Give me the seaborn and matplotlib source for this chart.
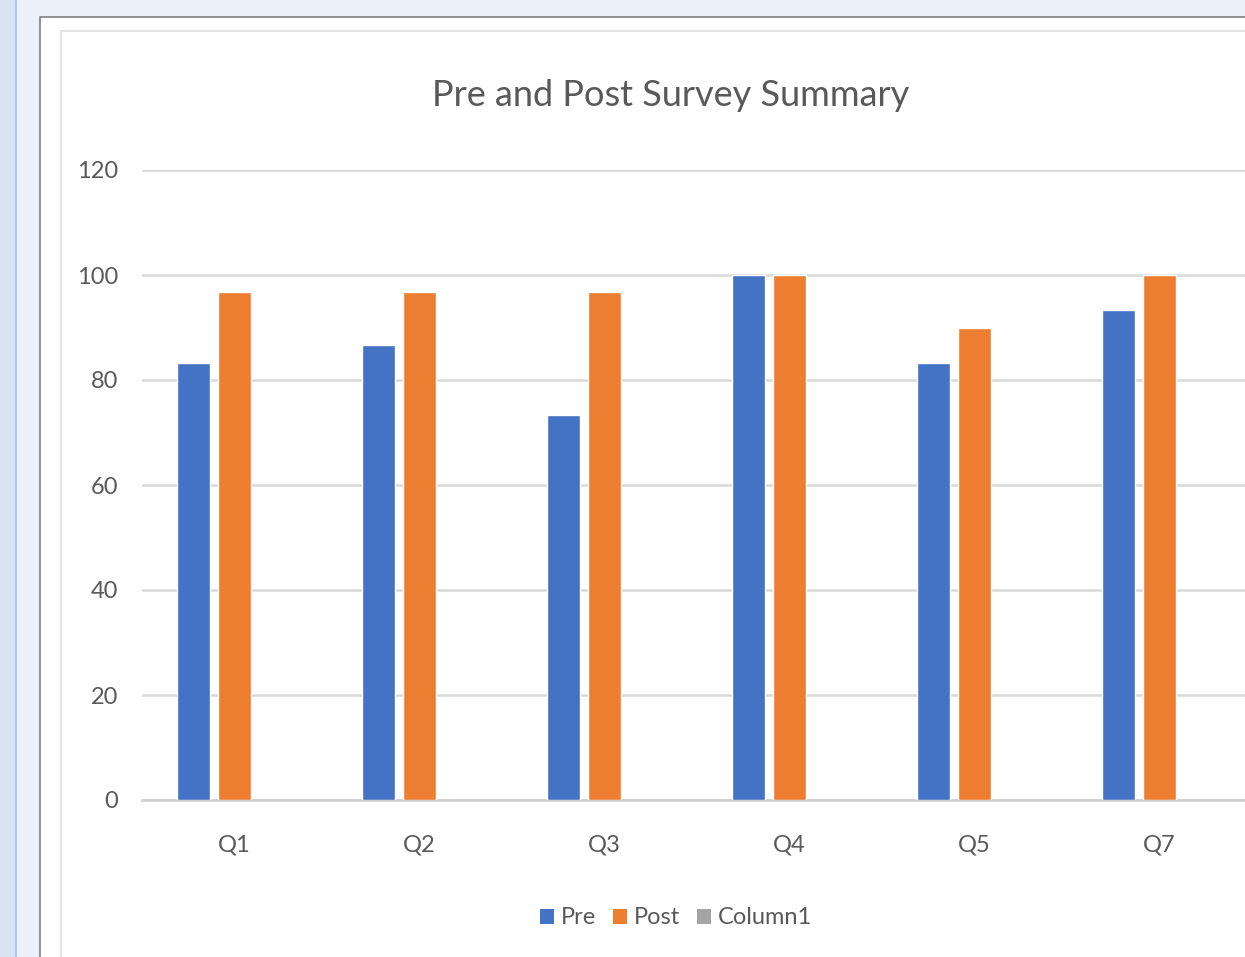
import matplotlib
matplotlib.use("Agg")
import matplotlib.pyplot as plt
from matplotlib.patches import Rectangle, Patch
from matplotlib.lines import Line2D
import seaborn as sns
import pandas as pd
import numpy as np

questions = ["Q1", "Q2", "Q3", "Q4", "Q5", "Q7"]
pre = [83.33, 86.67, 73.33, 100, 83.33, 93.33]
post = [96.67, 96.67, 96.67, 100, 90, 100]
column1 = [np.nan] * 6
series = ["Pre", "Post", "Column1"]
colors = ["#4472C4", "#ED7D31", "#A5A5A5"]
title = "Pre and Post Survey Summary"

df = pd.DataFrame({
    "Question": questions * 3,
    "Series": ["Pre"] * 6 + ["Post"] * 6 + ["Column1"] * 6,
    "Value": pre + post + column1,
})

sns.set_theme(style="white")
plt.rcParams["font.family"] = ["Lato", "DejaVu Sans"]

W, H = 1245, 957
fig = plt.figure(figsize=(W / 100, H / 100), dpi=100)
fig.patch.set_facecolor("#EBF1FA")

def px_rect(x0, y0, x1, y1, **kw):
    fig.patches.append(Rectangle((x0 / W, 1 - y1 / H), (x1 - x0) / W, (y1 - y0) / H,
                                 transform=fig.transFigure, **kw))

# left strip
px_rect(0, 0, 15, H, facecolor="#DAE3F3", edgecolor="none", zorder=-5)
fig.lines.append(Line2D([15.5 / W, 15.5 / W], [0, 1], transform=fig.transFigure,
                        color="#B4C7E7", lw=1.5, zorder=-4))
# white panel with gray frame
px_rect(40, 17, W + 5, H + 5, facecolor="white", edgecolor="#7F7F7F", lw=1.2, zorder=-4)
# chart area faint border
px_rect(61, 31, W + 5, H + 5, facecolor="white", edgecolor="#E3E3E3", lw=1.5, zorder=-3)

ax_l, ax_r, ax_t, ax_b = 142, 1245, 170, 800
ax = fig.add_axes([ax_l / W, 1 - ax_b / H, (ax_r - ax_l) / W, (ax_b - ax_t) / H])
ax.set_facecolor("none")

sns.barplot(data=df, x="Question", y="Value", hue="Series", hue_order=series,
            order=questions, palette=colors, width=0.665, gap=0.2,
            saturation=1, ax=ax, legend=False, errorbar=None, zorder=3)

ax.set_ylim(0, 120)
ax.set_xlim(-0.5, -0.5 + (ax_r - ax_l) / 185)
ax.set_yticks(range(0, 121, 20))
ax.yaxis.grid(True, color="#D9D9D9", lw=1.8, zorder=0)
ax.set_axisbelow(True)
for s in ["top", "right", "left"]:
    ax.spines[s].set_visible(False)
ax.spines["bottom"].set_color("#D0D0D0")
ax.spines["bottom"].set_linewidth(2)
ax.set_xlabel("")
ax.set_ylabel("")
ax.tick_params(axis="y", length=0, pad=17, labelsize=17, labelcolor="#595959")
ax.tick_params(axis="x", length=0, pad=25, labelsize=17, labelcolor="#595959")

fig.text(671 / W, 1 - 95 / H, title, ha="center", va="center", fontsize=26, color="#595959")

handles = [Patch(facecolor=c, edgecolor="none") for c in colors]
fig.legend(handles, series, loc="center", bbox_to_anchor=(676 / W, 1 - 918 / H), ncol=3,
           frameon=False, fontsize=17, labelcolor="#595959", handlelength=0.6,
           handleheight=0.6, handletextpad=0.3, columnspacing=0.7)

fig.savefig("out.png", dpi=100, facecolor=fig.get_facecolor())
